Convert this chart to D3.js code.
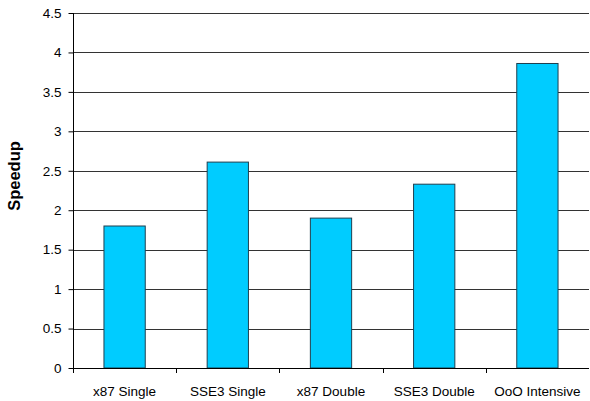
<!DOCTYPE html>
<html><head><meta charset="utf-8">
<script src="https://cdn.jsdelivr.net/npm/d3@7"></script>
<style>body{margin:0;background:#fff}svg{display:block}</style>
</head><body>
<script>
const categories = ["x87 Single","SSE3 Single","x87 Double","SSE3 Double","OoO Intensive"];
const speedup = [1.80, 2.61, 1.90, 2.33, 3.86];
const yTicks = [0,0.5,1,1.5,2,2.5,3,3.5,4,4.5];

const W=590,H=401;
const m={left:73,right:1,top:13,bottom:33};
const svg=d3.select("body").append("svg").attr("width",W).attr("height",H);
const x=d3.scaleBand().domain(categories).range([m.left,W-m.right]).paddingInner(0).paddingOuter(0);
const y=d3.scaleLinear().domain([0,4.5]).range([H-m.bottom,m.top]);
const font="Liberation Sans, Arial, sans-serif";

// gridlines
svg.append("g").selectAll("line").data(yTicks.slice(1)).join("line")
  .attr("x1",m.left).attr("x2",W-m.right)
  .attr("y1",d=>Math.round(y(d))+0.5).attr("y2",d=>Math.round(y(d))+0.5)
  .attr("stroke","#333").attr("stroke-width",1);

// bars
const bw=x.bandwidth()*0.4;
svg.append("g").selectAll("rect").data(categories).join("rect")
  .attr("x",(d)=>x(d)+(x.bandwidth()-bw)/2)
  .attr("y",(d,i)=>y(speedup[i]))
  .attr("width",bw)
  .attr("height",(d,i)=>y(0)-y(speedup[i]))
  .attr("fill","#00CCFF").attr("stroke","#1f3f4f").attr("stroke-width",1);

// y axis
const ya=svg.append("g").attr("transform",`translate(${m.left+0.5},0)`)
  .call(d3.axisLeft(y).tickValues(yTicks).tickFormat(d3.format("")).tickSize(5).tickPadding(7));
ya.selectAll("line").attr("stroke","#000");
ya.selectAll("text").attr("font-family",font).attr("font-size",13.5).attr("fill","#000");
ya.select(".domain").attr("stroke","#000").attr("d",`M0,${Math.round(m.top)}V${H-m.bottom}`);

// x axis
const xa=svg.append("g").attr("transform",`translate(0,${Math.round(y(0))+0.5})`)
  .call(d3.axisBottom(x).tickSize(0).tickPadding(18));
xa.select(".domain").attr("stroke","#000").attr("d",`M${m.left},0H${W-m.right}`);
xa.selectAll("text").attr("font-family",font).attr("font-size",13.5).attr("fill","#000");
// category boundary ticks
const bounds=categories.map(c=>x(c));
svg.append("g").selectAll("line").data(bounds).join("line")
  .attr("x1",d=>Math.round(d)+0.5).attr("x2",d=>Math.round(d)+0.5)
  .attr("y1",Math.round(y(0))).attr("y2",Math.round(y(0))+5)
  .attr("stroke","#000");

// y label
svg.append("text").attr("transform",`translate(20,176) rotate(-90)`)
  .attr("text-anchor","middle").attr("font-family",font).attr("font-weight","bold")
  .attr("font-size",16.5).text("Speedup");
</script>
</body></html>
